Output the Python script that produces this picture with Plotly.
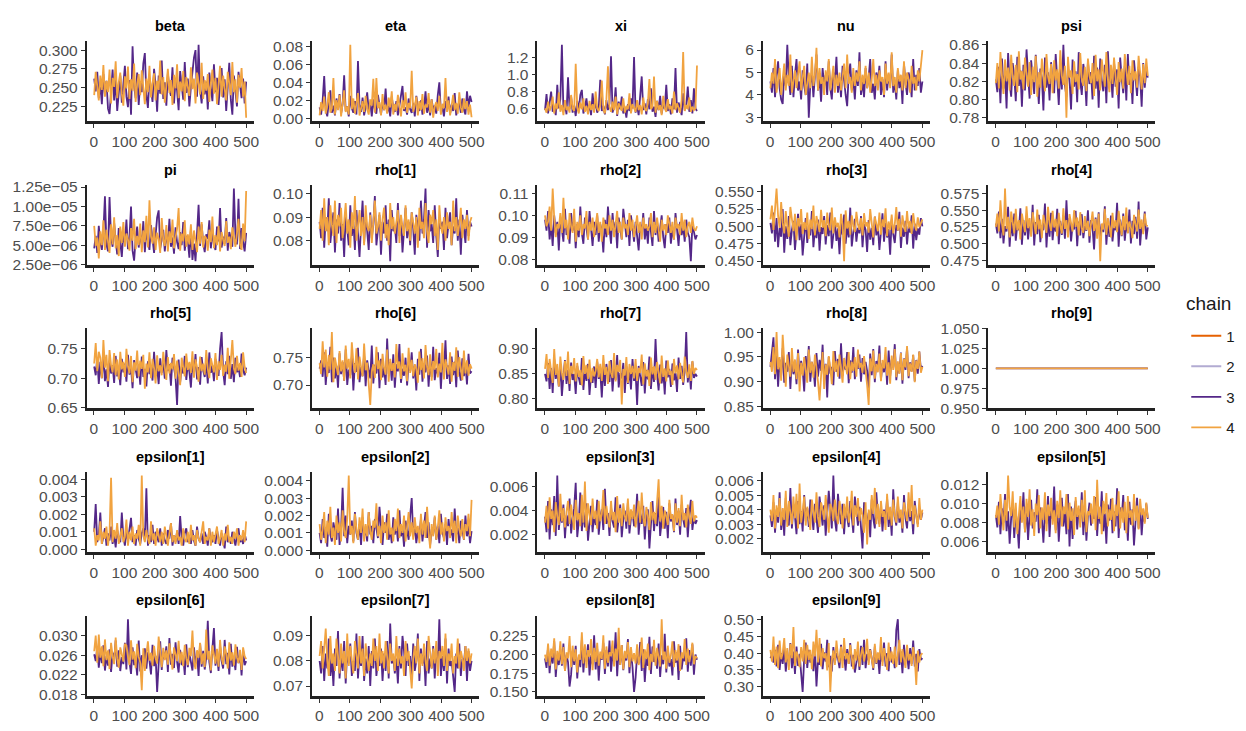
import numpy as np
import plotly.graph_objects as go

# ---------------- data ----------------
chains = ["1", "2", "3", "4"]
chain_colors = ["#E66101", "#B2ABD2", "#542788", "#F1A340"]

beta_c3 = [0.262, 0.245, 0.271, 0.236, 0.255, 0.228, 0.268, 0.241, 0.259, 0.222, 0.215, 0.250, 0.274, 0.233, 0.261, 0.219, 0.247, 0.266, 0.230, 0.256, 0.279, 0.238, 0.224, 0.260, 0.214, 0.305, 0.252, 0.236, 0.270, 0.227, 0.258, 0.244, 0.282, 0.296, 0.240, 0.223, 0.263, 0.249, 0.231, 0.275, 0.254, 0.218, 0.266, 0.242, 0.286, 0.235, 0.257, 0.226, 0.269, 0.248, 0.239, 0.277, 0.229, 0.260, 0.246, 0.220, 0.272, 0.253, 0.234, 0.284, 0.243, 0.262, 0.225, 0.251, 0.273, 0.290, 0.300, 0.238, 0.307, 0.247, 0.229, 0.265, 0.241, 0.258, 0.221, 0.270, 0.250, 0.232, 0.281, 0.244, 0.263, 0.227, 0.255, 0.276, 0.237, 0.261, 0.219, 0.248, 0.283, 0.234, 0.214, 0.266, 0.242, 0.225, 0.271, 0.250, 0.236, 0.262, 0.229, 0.258]
beta_c4 = [0.240, 0.271, 0.252, 0.233, 0.266, 0.247, 0.280, 0.238, 0.259, 0.244, 0.274, 0.229, 0.263, 0.251, 0.285, 0.236, 0.257, 0.270, 0.242, 0.226, 0.265, 0.249, 0.278, 0.235, 0.261, 0.246, 0.282, 0.231, 0.255, 0.268, 0.240, 0.273, 0.250, 0.228, 0.262, 0.244, 0.279, 0.237, 0.256, 0.269, 0.233, 0.259, 0.247, 0.286, 0.241, 0.264, 0.230, 0.253, 0.275, 0.243, 0.260, 0.227, 0.267, 0.249, 0.281, 0.236, 0.258, 0.245, 0.272, 0.232, 0.264, 0.251, 0.239, 0.277, 0.248, 0.262, 0.229, 0.270, 0.254, 0.241, 0.283, 0.235, 0.260, 0.246, 0.268, 0.231, 0.256, 0.274, 0.242, 0.263, 0.228, 0.252, 0.279, 0.238, 0.266, 0.248, 0.233, 0.271, 0.255, 0.240, 0.284, 0.244, 0.261, 0.230, 0.267, 0.250, 0.276, 0.238, 0.258, 0.210]

eta_c3 = [0.012, 0.004, 0.020, 0.047, 0.009, 0.002, 0.018, 0.031, 0.006, 0.014, 0.003, 0.022, 0.010, 0.027, 0.005, 0.016, 0.048, 0.008, 0.013, 0.002, 0.025, 0.011, 0.006, 0.019, 0.004, 0.064, 0.015, 0.007, 0.023, 0.003, 0.012, 0.029, 0.008, 0.017, 0.002, 0.021, 0.010, 0.005, 0.026, 0.013, 0.004, 0.018, 0.009, 0.033, 0.006, 0.014, 0.002, 0.024, 0.011, 0.007, 0.019, 0.003, 0.015, 0.028, 0.036, 0.008, 0.012, 0.004, 0.022, 0.010, 0.006, 0.017, 0.002, 0.025, 0.013, 0.008, 0.020, 0.004, 0.011, 0.030, 0.006, 0.016, 0.003, 0.021, 0.009, 0.014, 0.005, 0.026, 0.040, 0.007, 0.012, 0.002, 0.019, 0.010, 0.024, 0.005, 0.015, 0.008, 0.028, 0.003, 0.013, 0.018, 0.006, 0.022, 0.009, 0.004, 0.030, 0.012, 0.025, 0.018]
eta_c4 = [0.003, 0.018, 0.008, 0.024, 0.005, 0.014, 0.029, 0.006, 0.011, 0.045, 0.004, 0.020, 0.009, 0.026, 0.002, 0.016, 0.031, 0.007, 0.013, 0.004, 0.082, 0.010, 0.022, 0.005, 0.017, 0.028, 0.003, 0.012, 0.019, 0.007, 0.025, 0.010, 0.004, 0.021, 0.014, 0.044, 0.006, 0.045, 0.011, 0.018, 0.003, 0.027, 0.009, 0.015, 0.005, 0.023, 0.012, 0.030, 0.004, 0.016, 0.008, 0.026, 0.013, 0.002, 0.020, 0.010, 0.029, 0.006, 0.017, 0.011, 0.053, 0.007, 0.014, 0.024, 0.003, 0.019, 0.009, 0.027, 0.005, 0.015, 0.012, 0.028, 0.006, 0.021, 0.0005, 0.013, 0.018, 0.008, 0.025, 0.004, 0.016, 0.011, 0.045, 0.007, 0.020, 0.003, 0.014, 0.026, 0.009, 0.017, 0.005, 0.029, 0.012, 0.006, 0.022, 0.010, 0.019, 0.004, 0.015, 0.001]

xi_c3 = [0.58, 0.77, 0.54, 0.66, 0.80, 0.56, 0.62, 0.52, 0.88, 0.60, 0.71, 1.355, 0.57, 0.65, 0.53, 0.97, 0.59, 0.74, 0.55, 0.63, 0.51, 0.69, 0.58, 0.76, 0.82, 0.54, 0.61, 0.72, 0.56, 0.64, 0.52, 0.78, 0.59, 0.67, 0.55, 0.60, 0.94, 0.57, 0.63, 0.53, 0.70, 0.58, 0.66, 1.22, 0.55, 0.62, 0.85, 0.51, 0.68, 0.59, 0.74, 0.54, 0.61, 0.49, 0.65, 0.57, 0.72, 0.60, 1.21, 0.55, 0.63, 0.52, 0.77, 0.98, 0.58, 0.66, 0.53, 0.71, 0.59, 0.84, 0.56, 0.62, 0.50, 0.69, 0.58, 0.75, 0.54, 0.64, 0.60, 0.88, 0.57, 0.65, 0.53, 0.72, 0.59, 1.08, 0.55, 0.67, 0.61, 0.52, 0.78, 0.58, 0.63, 0.86, 0.56, 0.70, 0.54, 0.84, 0.60, 0.57]
xi_c4 = [0.60, 0.55, 0.68, 0.57, 0.63, 0.74, 0.54, 0.66, 0.59, 0.79, 0.56, 0.64, 0.52, 0.70, 0.58, 0.62, 0.55, 0.76, 0.60, 0.57, 1.13, 0.61, 0.54, 0.67, 0.59, 0.72, 0.56, 0.63, 0.53, 0.69, 0.58, 0.65, 0.55, 0.80, 0.60, 0.57, 0.64, 0.93, 0.59, 0.54, 0.71, 1.10, 0.62, 0.56, 0.68, 0.58, 0.74, 0.53, 0.66, 0.60, 0.57, 0.72, 0.55, 0.63, 0.59, 0.78, 0.54, 0.65, 0.61, 0.56, 0.70, 0.58, 0.64, 0.53, 0.73, 0.60, 0.57, 0.66, 0.95, 0.59, 0.62, 0.98, 0.55, 0.69, 0.58, 0.64, 0.52, 0.75, 0.60, 0.56, 0.71, 0.59, 0.63, 0.54, 0.80, 0.58, 0.66, 0.61, 0.55, 0.70, 1.27, 0.57, 0.64, 0.59, 0.73, 0.56, 0.62, 0.58, 0.60, 1.11]

nu_c3 = [4.6, 4.1, 5.2, 3.9, 4.8, 5.5, 4.3, 3.8, 3.6, 5.0, 4.4, 6.23, 4.7, 4.0, 5.3, 3.9, 4.9, 5.6, 4.2, 4.6, 3.8, 5.1, 4.4, 4.0, 5.4, 2.99, 4.5, 5.0, 3.9, 4.7, 5.8, 4.2, 4.8, 3.7, 5.2, 4.4, 4.9, 4.0, 5.5, 4.3, 3.8, 5.0, 4.6, 5.7, 4.1, 4.8, 3.9, 5.3, 4.5, 4.0, 3.5, 4.9, 5.4, 4.2, 4.7, 3.8, 5.1, 4.4, 5.9, 4.0, 4.6, 3.9, 5.2, 4.3, 4.8, 5.6, 4.1, 4.5, 3.8, 5.0, 4.6, 5.3, 4.0, 4.7, 3.9, 5.5, 4.2, 4.9, 4.4, 5.8, 4.1, 4.6, 3.8, 5.1, 4.3, 4.8, 3.6, 5.4, 4.5, 4.0, 5.0, 4.7, 3.9, 5.6, 4.2, 4.9, 4.4, 5.2, 4.1, 4.6]
nu_c4 = [4.3, 5.0, 4.5, 5.6, 4.1, 4.8, 5.2, 4.0, 4.7, 5.4, 4.2, 4.9, 4.4, 5.8, 4.1, 4.6, 5.1, 4.3, 4.9, 5.5, 4.2, 4.8, 5.3, 4.0, 4.6, 5.0, 4.3, 5.7, 4.4, 4.9, 6.1, 4.2, 5.2, 4.5, 4.8, 4.0, 5.1, 4.6, 5.6, 4.2, 4.7, 5.3, 4.1, 4.9, 4.4, 5.0, 4.2, 4.7, 5.4, 4.3, 5.8, 4.5, 4.8, 4.1, 5.2, 4.4, 5.0, 4.6, 5.5, 4.2, 4.9, 4.5, 5.3, 4.3, 5.0, 4.1, 4.7, 5.6, 4.4, 4.9, 4.2, 5.1, 4.6, 4.8, 4.0, 5.4, 4.5, 5.0, 4.3, 5.9, 4.4, 4.8, 4.1, 5.2, 4.6, 4.9, 4.2, 5.5, 4.3, 5.0, 4.7, 4.1, 5.3, 4.5, 4.8, 4.2, 5.1, 4.6, 5.4, 6.0]

psi_c3 = [0.822, 0.808, 0.836, 0.796, 0.845, 0.812, 0.829, 0.790, 0.851, 0.818, 0.803, 0.840, 0.826, 0.798, 0.847, 0.815, 0.832, 0.792, 0.838, 0.810, 0.855, 0.820, 0.801, 0.843, 0.828, 0.806, 0.849, 0.817, 0.795, 0.834, 0.824, 0.788, 0.846, 0.813, 0.830, 0.799, 0.841, 0.819, 0.807, 0.850, 0.825, 0.794, 0.837, 0.811, 0.860, 0.816, 0.803, 0.835, 0.822, 0.789, 0.844, 0.814, 0.831, 0.797, 0.852, 0.820, 0.805, 0.839, 0.826, 0.793, 0.842, 0.817, 0.830, 0.800, 0.848, 0.812, 0.835, 0.791, 0.845, 0.821, 0.809, 0.838, 0.796, 0.853, 0.818, 0.827, 0.802, 0.841, 0.814, 0.833, 0.790, 0.846, 0.823, 0.807, 0.837, 0.799, 0.850, 0.816, 0.829, 0.795, 0.843, 0.819, 0.804, 0.836, 0.825, 0.792, 0.840, 0.813, 0.831, 0.824]
psi_c4 = [0.818, 0.840, 0.812, 0.852, 0.826, 0.806, 0.844, 0.820, 0.835, 0.810, 0.849, 0.824, 0.815, 0.838, 0.808, 0.853, 0.822, 0.831, 0.811, 0.846, 0.827, 0.814, 0.841, 0.805, 0.836, 0.819, 0.848, 0.803, 0.830, 0.813, 0.845, 0.823, 0.809, 0.850, 0.825, 0.817, 0.839, 0.807, 0.843, 0.821, 0.833, 0.812, 0.854, 0.826, 0.816, 0.837, 0.780, 0.847, 0.824, 0.832, 0.806, 0.842, 0.819, 0.828, 0.811, 0.851, 0.823, 0.815, 0.836, 0.809, 0.845, 0.826, 0.818, 0.840, 0.804, 0.849, 0.820, 0.833, 0.810, 0.844, 0.827, 0.814, 0.852, 0.822, 0.808, 0.838, 0.817, 0.846, 0.825, 0.805, 0.841, 0.819, 0.834, 0.812, 0.850, 0.828, 0.816, 0.837, 0.807, 0.843, 0.821, 0.831, 0.813, 0.848, 0.824, 0.811, 0.839, 0.818, 0.845, 0.826]

# pi values are given in units of 1e-06
PI_UNIT = 1e-6
pi_c3 = [4.6, 6.2, 4.0, 7.5, 5.3, 4.4, 6.8, 11.3, 5.1, 4.2, 11.2, 6.0, 4.8, 7.9, 5.6, 3.8, 7.2, 4.9, 3.5, 6.6, 5.2, 8.3, 4.5, 6.1, 10.0, 4.3, 3.0, 5.8, 7.4, 4.7, 6.4, 5.0, 8.1, 4.1, 6.9, 5.5, 4.4, 7.6, 5.9, 4.0, 6.3, 8.6, 9.5, 4.6, 5.7, 7.0, 4.2, 6.5, 5.1, 8.4, 4.8, 6.0, 3.9, 7.3, 5.4, 4.5, 6.7, 5.0, 8.0, 4.3, 6.2, 5.6, 3.4, 7.1, 3.1, 5.2, 2.93, 6.6, 10.2, 4.9, 7.7, 5.3, 4.1, 6.4, 5.8, 8.2, 4.6, 6.9, 5.0, 4.4, 7.4, 5.5, 9.8, 4.7, 6.1, 5.2, 8.5, 4.3, 6.7, 5.9, 4.8, 12.32, 6.3, 5.1, 11.0, 4.5, 7.2, 5.4, 4.2, 6.6]
pi_c4 = [7.5, 4.9, 6.0, 3.3, 6.8, 5.0, 8.2, 4.4, 7.0, 5.5, 4.0, 7.7, 5.1, 8.6, 4.6, 6.3, 3.6, 7.4, 5.3, 8.0, 4.8, 6.5, 5.7, 4.3, 7.2, 5.6, 8.4, 4.5, 6.2, 5.0, 7.8, 4.1, 6.9, 5.4, 8.8, 4.7, 10.8, 6.1, 5.2, 7.3, 4.4, 6.6, 5.8, 4.0, 8.5, 5.7, 4.9, 7.6, 4.2, 6.8, 5.3, 8.3, 4.6, 6.0, 7.1, 9.8, 4.3, 6.5, 5.5, 8.2, 4.8, 6.4, 5.1, 7.7, 4.4, 6.9, 5.6, 4.1, 7.4, 5.2, 8.0, 4.7, 6.2, 5.9, 4.3, 7.0, 5.4, 8.7, 4.6, 6.3, 5.0, 7.5, 4.2, 6.7, 5.7, 4.9, 8.1, 5.3, 6.1, 4.5, 7.3, 5.8, 4.8, 6.6, 8.4, 5.1, 4.4, 7.8, 5.5, 12.0]

rho1_c3 = [0.088, 0.081, 0.094, 0.077, 0.090, 0.084, 0.098, 0.079, 0.086, 0.092, 0.075, 0.089, 0.083, 0.096, 0.080, 0.087, 0.073, 0.091, 0.085, 0.078, 0.095, 0.082, 0.088, 0.076, 0.093, 0.080, 0.073, 0.086, 0.097, 0.079, 0.090, 0.084, 0.076, 0.092, 0.081, 0.087, 0.099, 0.078, 0.085, 0.091, 0.074, 0.088, 0.083, 0.095, 0.080, 0.089, 0.0712, 0.093, 0.084, 0.086, 0.079, 0.096, 0.082, 0.090, 0.075, 0.087, 0.094, 0.081, 0.088, 0.078, 0.092, 0.085, 0.074, 0.091, 0.086, 0.080, 0.097, 0.083, 0.089, 0.1022, 0.077, 0.093, 0.084, 0.087, 0.079, 0.095, 0.082, 0.073, 0.090, 0.085, 0.088, 0.076, 0.094, 0.081, 0.087, 0.092, 0.078, 0.086, 0.083, 0.098, 0.080, 0.089, 0.074, 0.091, 0.085, 0.079, 0.093, 0.082, 0.088, 0.086]
rho1_c4 = [0.085, 0.093, 0.080, 0.098, 0.084, 0.090, 0.078, 0.095, 0.087, 0.082, 0.097, 0.079, 0.091, 0.086, 0.094, 0.081, 0.088, 0.096, 0.083, 0.089, 0.077, 0.092, 0.085, 0.099, 0.080, 0.087, 0.093, 0.082, 0.090, 0.078, 0.095, 0.086, 0.084, 0.091, 0.079, 0.088, 0.097, 0.083, 0.086, 0.092, 0.080, 0.089, 0.094, 0.081, 0.087, 0.078, 0.096, 0.085, 0.090, 0.083, 0.088, 0.093, 0.079, 0.091, 0.086, 0.082, 0.095, 0.084, 0.089, 0.080, 0.092, 0.087, 0.083, 0.090, 0.077, 0.094, 0.085, 0.088, 0.081, 0.096, 0.084, 0.079, 0.091, 0.087, 0.093, 0.082, 0.089, 0.076, 0.095, 0.086, 0.083, 0.090, 0.080, 0.092, 0.085, 0.088, 0.078, 0.097, 0.084, 0.090, 0.082, 0.087, 0.094, 0.081, 0.089, 0.085, 0.091, 0.080, 0.088, 0.090]

rho2_c3 = [0.098, 0.093, 0.102, 0.089, 0.096, 0.086, 0.100, 0.092, 0.097, 0.084, 0.099, 0.094, 0.088, 0.103, 0.091, 0.095, 0.087, 0.101, 0.093, 0.098, 0.085, 0.096, 0.090, 0.104, 0.092, 0.087, 0.099, 0.094, 0.089, 0.102, 0.095, 0.086, 0.097, 0.091, 0.100, 0.088, 0.096, 0.093, 0.083, 0.098, 0.090, 0.104, 0.094, 0.087, 0.101, 0.092, 0.097, 0.085, 0.099, 0.093, 0.089, 0.103, 0.095, 0.090, 0.098, 0.086, 0.100, 0.094, 0.088, 0.097, 0.091, 0.084, 0.096, 0.092, 0.101, 0.089, 0.095, 0.087, 0.099, 0.093, 0.086, 0.102, 0.091, 0.097, 0.088, 0.094, 0.100, 0.090, 0.085, 0.096, 0.092, 0.099, 0.087, 0.094, 0.089, 0.101, 0.093, 0.086, 0.097, 0.091, 0.095, 0.088, 0.098, 0.092, 0.090, 0.079, 0.096, 0.093, 0.089, 0.091]
rho2_c4 = [0.100, 0.095, 0.097, 0.104, 0.093, 0.1123, 0.099, 0.090, 0.096, 0.094, 0.101, 0.092, 0.108, 0.094, 0.098, 0.089, 0.101, 0.095, 0.092, 0.103, 0.088, 0.097, 0.093, 0.100, 0.091, 0.096, 0.094, 0.102, 0.089, 0.097, 0.093, 0.099, 0.090, 0.095, 0.101, 0.092, 0.097, 0.088, 0.099, 0.094, 0.096, 0.091, 0.100, 0.093, 0.098, 0.090, 0.095, 0.102, 0.092, 0.097, 0.089, 0.099, 0.094, 0.096, 0.091, 0.101, 0.093, 0.098, 0.090, 0.095, 0.100, 0.092, 0.097, 0.089, 0.099, 0.094, 0.096, 0.093, 0.095, 0.101, 0.090, 0.097, 0.092, 0.099, 0.094, 0.088, 0.098, 0.093, 0.096, 0.091, 0.100, 0.095, 0.092, 0.097, 0.089, 0.099, 0.094, 0.096, 0.091, 0.101, 0.093, 0.098, 0.090, 0.095, 0.097, 0.092, 0.099, 0.094, 0.093, 0.095]

rho3_c3 = [0.505, 0.490, 0.520, 0.478, 0.512, 0.470, 0.498, 0.485, 0.525, 0.462, 0.500, 0.482, 0.515, 0.473, 0.495, 0.508, 0.466, 0.490, 0.518, 0.480, 0.503, 0.458, 0.492, 0.512, 0.476, 0.500, 0.487, 0.522, 0.470, 0.496, 0.483, 0.510, 0.465, 0.499, 0.489, 0.515, 0.474, 0.502, 0.486, 0.520, 0.468, 0.494, 0.508, 0.479, 0.497, 0.460, 0.505, 0.488, 0.517, 0.475, 0.500, 0.484, 0.527, 0.471, 0.493, 0.511, 0.478, 0.498, 0.490, 0.515, 0.470, 0.503, 0.495, 0.463, 0.509, 0.481, 0.498, 0.473, 0.514, 0.487, 0.501, 0.466, 0.492, 0.519, 0.478, 0.505, 0.484, 0.496, 0.459, 0.510, 0.489, 0.476, 0.502, 0.494, 0.521, 0.469, 0.498, 0.485, 0.508, 0.474, 0.500, 0.491, 0.516, 0.468, 0.504, 0.480, 0.497, 0.488, 0.512, 0.500]
rho3_c4 = [0.510, 0.530, 0.495, 0.520, 0.5547, 0.515, 0.498, 0.535, 0.505, 0.490, 0.522, 0.500, 0.485, 0.528, 0.508, 0.493, 0.518, 0.480, 0.512, 0.500, 0.525, 0.489, 0.506, 0.495, 0.520, 0.482, 0.510, 0.496, 0.530, 0.487, 0.515, 0.503, 0.492, 0.524, 0.498, 0.509, 0.486, 0.520, 0.501, 0.494, 0.527, 0.490, 0.513, 0.499, 0.505, 0.484, 0.518, 0.502, 0.4497, 0.523, 0.497, 0.508, 0.488, 0.516, 0.500, 0.492, 0.521, 0.503, 0.495, 0.512, 0.487, 0.519, 0.500, 0.506, 0.491, 0.525, 0.498, 0.484, 0.514, 0.503, 0.493, 0.520, 0.488, 0.510, 0.499, 0.526, 0.486, 0.507, 0.495, 0.517, 0.490, 0.503, 0.528, 0.494, 0.511, 0.485, 0.516, 0.500, 0.492, 0.522, 0.497, 0.508, 0.489, 0.519, 0.502, 0.494, 0.513, 0.499, 0.506, 0.510]

rho4_c3 = [0.530, 0.515, 0.548, 0.508, 0.537, 0.500, 0.526, 0.518, 0.555, 0.495, 0.533, 0.511, 0.545, 0.504, 0.528, 0.520, 0.553, 0.498, 0.535, 0.512, 0.540, 0.506, 0.529, 0.517, 0.558, 0.497, 0.532, 0.514, 0.543, 0.502, 0.527, 0.520, 0.560, 0.494, 0.536, 0.510, 0.546, 0.505, 0.530, 0.518, 0.552, 0.499, 0.534, 0.513, 0.541, 0.507, 0.565, 0.516, 0.538, 0.503, 0.528, 0.521, 0.549, 0.496, 0.533, 0.512, 0.544, 0.508, 0.526, 0.519, 0.550, 0.501, 0.535, 0.524, 0.491, 0.539, 0.513, 0.547, 0.505, 0.529, 0.517, 0.556, 0.498, 0.532, 0.510, 0.542, 0.503, 0.527, 0.520, 0.561, 0.495, 0.536, 0.511, 0.545, 0.504, 0.530, 0.516, 0.551, 0.500, 0.534, 0.514, 0.540, 0.507, 0.563, 0.497, 0.528, 0.519, 0.548, 0.506, 0.524]
rho4_c4 = [0.525, 0.545, 0.518, 0.565, 0.530, 0.512, 0.5827, 0.522, 0.540, 0.509, 0.548, 0.527, 0.515, 0.552, 0.520, 0.535, 0.506, 0.545, 0.528, 0.517, 0.556, 0.523, 0.538, 0.510, 0.547, 0.526, 0.514, 0.551, 0.521, 0.536, 0.508, 0.543, 0.529, 0.516, 0.555, 0.530, 0.519, 0.549, 0.524, 0.537, 0.511, 0.546, 0.527, 0.515, 0.553, 0.522, 0.535, 0.509, 0.544, 0.528, 0.518, 0.550, 0.525, 0.539, 0.512, 0.547, 0.523, 0.516, 0.541, 0.520, 0.534, 0.511, 0.529, 0.548, 0.519, 0.537, 0.507, 0.545, 0.4732, 0.530, 0.521, 0.552, 0.513, 0.538, 0.526, 0.509, 0.546, 0.523, 0.535, 0.517, 0.549, 0.527, 0.512, 0.541, 0.520, 0.554, 0.515, 0.533, 0.524, 0.508, 0.543, 0.529, 0.518, 0.551, 0.522, 0.536, 0.514, 0.545, 0.527, 0.526]

rho5_c3 = [0.720, 0.705, 0.735, 0.690, 0.728, 0.700, 0.742, 0.695, 0.715, 0.685, 0.730, 0.708, 0.722, 0.692, 0.738, 0.703, 0.717, 0.688, 0.733, 0.710, 0.725, 0.694, 0.740, 0.706, 0.719, 0.683, 0.731, 0.711, 0.700, 0.723, 0.689, 0.737, 0.702, 0.716, 0.686, 0.729, 0.707, 0.721, 0.696, 0.745, 0.704, 0.718, 0.690, 0.734, 0.709, 0.726, 0.699, 0.748, 0.712, 0.724, 0.687, 0.735, 0.715, 0.701, 0.6545, 0.732, 0.693, 0.720, 0.708, 0.738, 0.697, 0.725, 0.711, 0.684, 0.730, 0.706, 0.741, 0.698, 0.719, 0.689, 0.736, 0.713, 0.702, 0.727, 0.691, 0.744, 0.709, 0.722, 0.695, 0.733, 0.716, 0.704, 0.750, 0.7788, 0.712, 0.688, 0.729, 0.707, 0.738, 0.699, 0.724, 0.693, 0.735, 0.710, 0.718, 0.702, 0.742, 0.714, 0.705, 0.718]
rho5_c4 = [0.725, 0.760, 0.712, 0.745, 0.735, 0.700, 0.765, 0.718, 0.740, 0.695, 0.748, 0.722, 0.710, 0.743, 0.705, 0.732, 0.698, 0.745, 0.715, 0.728, 0.702, 0.750, 0.720, 0.708, 0.738, 0.693, 0.727, 0.713, 0.747, 0.703, 0.730, 0.716, 0.740, 0.682, 0.725, 0.710, 0.744, 0.700, 0.733, 0.717, 0.691, 0.739, 0.712, 0.722, 0.705, 0.745, 0.719, 0.697, 0.736, 0.708, 0.726, 0.715, 0.741, 0.699, 0.730, 0.711, 0.688, 0.735, 0.720, 0.703, 0.742, 0.714, 0.728, 0.709, 0.746, 0.701, 0.732, 0.718, 0.694, 0.737, 0.712, 0.725, 0.706, 0.748, 0.716, 0.700, 0.734, 0.721, 0.710, 0.743, 0.697, 0.729, 0.714, 0.740, 0.704, 0.723, 0.711, 0.752, 0.699, 0.731, 0.765, 0.717, 0.707, 0.738, 0.713, 0.726, 0.702, 0.744, 0.719, 0.709]

rho6_c3 = [0.730, 0.745, 0.715, 0.760, 0.700, 0.738, 0.722, 0.770, 0.705, 0.750, 0.712, 0.735, 0.695, 0.758, 0.720, 0.742, 0.708, 0.765, 0.700, 0.728, 0.718, 0.752, 0.690, 0.740, 0.724, 0.768, 0.705, 0.733, 0.716, 0.755, 0.698, 0.745, 0.726, 0.712, 0.772, 0.703, 0.737, 0.721, 0.760, 0.694, 0.748, 0.714, 0.733, 0.700, 0.785, 0.720, 0.742, 0.708, 0.756, 0.695, 0.738, 0.725, 0.775, 0.704, 0.730, 0.717, 0.750, 0.699, 0.742, 0.726, 0.760, 0.712, 0.735, 0.690, 0.748, 0.719, 0.766, 0.706, 0.739, 0.723, 0.754, 0.697, 0.744, 0.715, 0.770, 0.709, 0.731, 0.720, 0.759, 0.693, 0.746, 0.727, 0.782, 0.711, 0.736, 0.702, 0.752, 0.718, 0.743, 0.696, 0.763, 0.724, 0.708, 0.749, 0.716, 0.738, 0.701, 0.757, 0.721, 0.725]
rho6_c4 = [0.740, 0.720, 0.780, 0.732, 0.765, 0.715, 0.755, 0.728, 0.7969, 0.705, 0.750, 0.735, 0.718, 0.762, 0.725, 0.745, 0.708, 0.772, 0.730, 0.748, 0.712, 0.778, 0.740, 0.722, 0.767, 0.710, 0.752, 0.733, 0.716, 0.776, 0.727, 0.741, 0.705, 0.6637, 0.724, 0.738, 0.713, 0.770, 0.729, 0.745, 0.709, 0.757, 0.732, 0.719, 0.765, 0.706, 0.748, 0.726, 0.740, 0.714, 0.775, 0.730, 0.743, 0.711, 0.758, 0.725, 0.737, 0.707, 0.768, 0.722, 0.746, 0.716, 0.738, 0.730, 0.704, 0.761, 0.727, 0.749, 0.712, 0.773, 0.733, 0.718, 0.756, 0.708, 0.744, 0.728, 0.766, 0.714, 0.739, 0.723, 0.777, 0.710, 0.747, 0.731, 0.719, 0.760, 0.706, 0.742, 0.726, 0.769, 0.715, 0.751, 0.734, 0.709, 0.763, 0.721, 0.745, 0.717, 0.738, 0.730]

rho7_c3 = [0.850, 0.835, 0.872, 0.820, 0.862, 0.812, 0.880, 0.840, 0.855, 0.825, 0.868, 0.806, 0.845, 0.878, 0.830, 0.858, 0.816, 0.873, 0.838, 0.850, 0.810, 0.866, 0.842, 0.828, 0.882, 0.818, 0.856, 0.836, 0.870, 0.808, 0.848, 0.832, 0.865, 0.822, 0.875, 0.840, 0.855, 0.803, 0.862, 0.826, 0.870, 0.845, 0.834, 0.878, 0.815, 0.860, 0.838, 0.888, 0.823, 0.852, 0.841, 0.872, 0.812, 0.865, 0.830, 0.857, 0.819, 0.880, 0.836, 0.853, 0.788, 0.866, 0.845, 0.826, 0.874, 0.811, 0.858, 0.839, 0.885, 0.820, 0.863, 0.834, 0.920, 0.848, 0.817, 0.869, 0.831, 0.856, 0.809, 0.877, 0.843, 0.860, 0.824, 0.871, 0.837, 0.852, 0.814, 0.883, 0.840, 0.866, 0.828, 0.855, 0.934, 0.833, 0.862, 0.819, 0.875, 0.842, 0.850, 0.845]
rho7_c4 = [0.860, 0.890, 0.842, 0.880, 0.855, 0.832, 0.900, 0.848, 0.870, 0.825, 0.885, 0.852, 0.838, 0.876, 0.846, 0.895, 0.830, 0.866, 0.850, 0.882, 0.835, 0.872, 0.844, 0.858, 0.827, 0.886, 0.850, 0.868, 0.840, 0.879, 0.833, 0.862, 0.845, 0.856, 0.880, 0.843, 0.870, 0.836, 0.888, 0.848, 0.864, 0.830, 0.876, 0.852, 0.842, 0.892, 0.835, 0.868, 0.854, 0.878, 0.789, 0.860, 0.847, 0.884, 0.832, 0.870, 0.850, 0.866, 0.841, 0.880, 0.836, 0.862, 0.852, 0.889, 0.829, 0.871, 0.845, 0.858, 0.826, 0.883, 0.849, 0.865, 0.838, 0.874, 0.853, 0.831, 0.887, 0.844, 0.861, 0.835, 0.877, 0.848, 0.856, 0.828, 0.880, 0.851, 0.867, 0.839, 0.872, 0.846, 0.833, 0.885, 0.855, 0.842, 0.869, 0.836, 0.876, 0.850, 0.862, 0.858]

rho8_c3 = [0.930, 0.960, 0.990, 0.905, 0.955, 0.890, 0.945, 0.912, 0.968, 0.898, 0.938, 0.920, 0.960, 0.885, 0.948, 0.915, 0.935, 0.895, 0.965, 0.908, 0.942, 0.925, 0.880, 0.952, 0.918, 0.972, 0.900, 0.940, 0.928, 0.890, 0.958, 0.910, 0.944, 0.922, 0.975, 0.902, 0.936, 0.868, 0.950, 0.916, 0.930, 0.893, 0.962, 0.920, 0.946, 0.906, 0.978, 0.912, 0.938, 0.924, 0.960, 0.897, 0.943, 0.918, 0.970, 0.905, 0.935, 0.926, 0.955, 0.900, 0.948, 0.915, 0.940, 0.922, 0.885, 0.957, 0.913, 0.966, 0.899, 0.942, 0.927, 0.973, 0.904, 0.937, 0.919, 0.951, 0.894, 0.963, 0.911, 0.945, 0.929, 0.976, 0.903, 0.934, 0.917, 0.959, 0.896, 0.947, 0.924, 0.968, 0.907, 0.939, 0.921, 0.954, 0.901, 0.944, 0.916, 0.961, 0.925, 0.932]
rho8_c4 = [0.940, 0.920, 0.970, 0.915, 1.0006, 0.925, 0.950, 0.902, 0.995, 0.930, 0.890, 0.955, 0.935, 0.910, 0.968, 0.920, 0.945, 0.905, 0.958, 0.880, 0.938, 0.912, 0.950, 0.925, 0.898, 0.965, 0.918, 0.940, 0.908, 0.955, 0.930, 0.900, 0.862, 0.922, 0.960, 0.885, 0.935, 0.914, 0.952, 0.928, 0.895, 0.962, 0.920, 0.942, 0.910, 0.955, 0.926, 0.898, 0.948, 0.932, 0.915, 0.960, 0.905, 0.940, 0.922, 0.950, 0.910, 0.965, 0.928, 0.938, 0.918, 0.952, 0.925, 0.893, 0.853, 0.947, 0.921, 0.963, 0.906, 0.936, 0.919, 0.957, 0.901, 0.944, 0.927, 0.970, 0.912, 0.939, 0.896, 0.953, 0.924, 0.966, 0.909, 0.941, 0.916, 0.958, 0.903, 0.946, 0.929, 0.972, 0.911, 0.937, 0.920, 0.955, 0.899, 0.943, 0.926, 0.961, 0.918, 0.930]

rho9_c3 = [1.0, 1.0]
rho9_c4 = [1.0, 1.0]

eps1_c3 = [0.0010, 0.0026, 0.0004, 0.0008, 0.0021, 0.0003, 0.0007, 0.0012, 0.0002, 0.0009, 0.0005, 0.0013, 0.0003, 0.0008, 0.0001, 0.0011, 0.0006, 0.0004, 0.0021, 0.0007, 0.0002, 0.0010, 0.0005, 0.0013, 0.0018, 0.0004, 0.0008, 0.0002, 0.0011, 0.0006, 0.0003, 0.0009, 0.0012, 0.0005, 0.0035, 0.0002, 0.0008, 0.0004, 0.0014, 0.0003, 0.0010, 0.0007, 0.0004, 0.0012, 0.0002, 0.0009, 0.0005, 0.0003, 0.0011, 0.0006, 0.0015, 0.0002, 0.0008, 0.0004, 0.0010, 0.0003, 0.0019, 0.0006, 0.0002, 0.0009, 0.0012, 0.0004, 0.0007, 0.0003, 0.0011, 0.0005, 0.0002, 0.0013, 0.0006, 0.0004, 0.0009, 0.0003, 0.0010, 0.0007, 0.0002, 0.0012, 0.0005, 0.0004, 0.0008, 0.0003, 0.0011, 0.0006, 0.0002, 0.0009, 0.0005, 0.00004, 0.0013, 0.0004, 0.0007, 0.0003, 0.0010, 0.0006, 0.0002, 0.0008, 0.0012, 0.0004, 0.0006, 0.0003, 0.0009, 0.0005]
eps1_c4 = [0.0012, 0.0002, 0.0008, 0.0005, 0.0016, 0.0003, 0.0010, 0.0006, 0.0013, 0.0002, 0.0009, 0.0041, 0.0004, 0.0011, 0.0006, 0.0015, 0.0003, 0.0008, 0.0012, 0.0004, 0.0007, 0.0017, 0.0002, 0.0010, 0.0005, 0.0013, 0.0003, 0.0009, 0.0006, 0.0014, 0.0002, 0.00423, 0.0008, 0.0004, 0.0011, 0.0006, 0.0003, 0.0016, 0.0005, 0.0009, 0.0002, 0.0012, 0.0007, 0.0004, 0.0010, 0.0003, 0.0013, 0.0006, 0.0002, 0.0009, 0.0015, 0.0004, 0.0008, 0.0003, 0.0011, 0.0005, 0.0007, 0.0002, 0.0012, 0.0006, 0.0004, 0.0010, 0.0003, 0.0014, 0.0005, 0.0008, 0.0002, 0.0011, 0.0006, 0.0004, 0.0009, 0.0016, 0.0003, 0.0007, 0.0005, 0.0012, 0.0002, 0.0010, 0.0004, 0.0008, 0.0013, 0.0003, 0.0006, 0.0011, 0.0002, 0.0009, 0.0005, 0.0014, 0.0004, 0.0007, 0.0003, 0.0010, 0.0006, 0.0012, 0.0002, 0.0008, 0.0005, 0.0011, 0.0004, 0.0016]

eps2_c3 = [0.0010, 0.0004, 0.0018, 0.0007, 0.0013, 0.0002, 0.0021, 0.0009, 0.0005, 0.0016, 0.0011, 0.0006, 0.0024, 0.0003, 0.0012, 0.0036, 0.0008, 0.0020, 0.0004, 0.0014, 0.0009, 0.0017, 0.0005, 0.0022, 0.0010, 0.0006, 0.0015, 0.0003, 0.0019, 0.0008, 0.0012, 0.0005, 0.0022, 0.0009, 0.0014, 0.0004, 0.0018, 0.0011, 0.0007, 0.0025, 0.0013, 0.0003, 0.0016, 0.0010, 0.0021, 0.0006, 0.0012, 0.0004, 0.0019, 0.0009, 0.0015, 0.0005, 0.0023, 0.0008, 0.0013, 0.0002, 0.0017, 0.0010, 0.0006, 0.0020, 0.0030, 0.0008, 0.0014, 0.0004, 0.0011, 0.0009, 0.0018, 0.0005, 0.0013, 0.0022, 0.0007, 0.0016, 0.0003, 0.0012, 0.0009, 0.0019, 0.0006, 0.0014, 0.0004, 0.0021, 0.0010, 0.0007, 0.0015, 0.0003, 0.0018, 0.0008, 0.0012, 0.0005, 0.0024, 0.0009, 0.0013, 0.0004, 0.0017, 0.0010, 0.0006, 0.0020, 0.0008, 0.0014, 0.0004, 0.0011]
eps2_c4 = [0.0015, 0.0006, 0.0012, 0.0022, 0.0004, 0.0017, 0.0009, 0.0025, 0.0007, 0.0013, 0.0003, 0.0020, 0.0010, 0.0016, 0.0005, 0.0023, 0.0011, 0.0007, 0.0018, 0.0043, 0.0009, 0.0014, 0.0004, 0.0021, 0.0012, 0.0006, 0.0019, 0.0010, 0.0024, 0.0005, 0.0015, 0.0008, 0.0022, 0.0011, 0.0006, 0.0017, 0.0013, 0.0027, 0.0008, 0.0014, 0.0004, 0.0020, 0.0010, 0.0016, 0.0006, 0.0023, 0.0009, 0.0013, 0.0005, 0.0018, 0.0011, 0.0024, 0.0007, 0.0015, 0.0010, 0.0020, 0.0005, 0.0013, 0.0022, 0.0008, 0.0016, 0.0006, 0.0019, 0.0010, 0.0014, 0.0004, 0.0021, 0.0009, 0.0017, 0.0007, 0.0025, 0.0011, 0.0001, 0.0015, 0.0008, 0.0020, 0.0006, 0.0013, 0.0023, 0.0009, 0.0016, 0.0005, 0.0019, 0.0011, 0.0014, 0.0007, 0.0022, 0.0010, 0.0017, 0.0004, 0.0020, 0.0012, 0.0008, 0.0018, 0.0006, 0.0015, 0.0011, 0.0021, 0.0008, 0.0029]

eps3_c3 = [0.0035, 0.0022, 0.0048, 0.0016, 0.0041, 0.0028, 0.0052, 0.0019, 0.0069, 0.0024, 0.0038, 0.0030, 0.0045, 0.0017, 0.0036, 0.0027, 0.0050, 0.0021, 0.0034, 0.0042, 0.0063, 0.0018, 0.0031, 0.0055, 0.0023, 0.0039, 0.0026, 0.0046, 0.0015, 0.0032, 0.0044, 0.0022, 0.0037, 0.0028, 0.0049, 0.0020, 0.0035, 0.0041, 0.0024, 0.0058, 0.0029, 0.0038, 0.0019, 0.0043, 0.0031, 0.0026, 0.0051, 0.0022, 0.0036, 0.0045, 0.0018, 0.0033, 0.0040, 0.0025, 0.0047, 0.0021, 0.0034, 0.0039, 0.0027, 0.0032, 0.0054, 0.0020, 0.0037, 0.0029, 0.0044, 0.0016, 0.0035, 0.0041, 0.00086, 0.0030, 0.0048, 0.0023, 0.0038, 0.0027, 0.0052, 0.0019, 0.0034, 0.0043, 0.0025, 0.0039, 0.0017, 0.0046, 0.0031, 0.0036, 0.0022, 0.0050, 0.0028, 0.0040, 0.0020, 0.0045, 0.0033, 0.0026, 0.0042, 0.0018, 0.0037, 0.0049, 0.0024, 0.0035, 0.0029, 0.0032]
eps3_c4 = [0.0030, 0.0044, 0.0025, 0.0051, 0.0033, 0.0040, 0.0022, 0.0047, 0.0035, 0.0028, 0.0054, 0.0031, 0.0042, 0.0026, 0.0039, 0.0048, 0.0029, 0.0045, 0.0034, 0.0024, 0.0049, 0.0032, 0.0038, 0.0027, 0.0053, 0.0030, 0.0064, 0.0023, 0.0046, 0.0036, 0.0028, 0.0050, 0.0033, 0.0040, 0.0025, 0.0048, 0.0031, 0.0037, 0.0057, 0.0029, 0.0044, 0.0034, 0.0026, 0.0048, 0.0032, 0.0039, 0.0022, 0.0052, 0.0030, 0.0042, 0.0027, 0.0046, 0.0035, 0.0031, 0.0050, 0.0028, 0.0041, 0.0033, 0.0045, 0.0026, 0.0038, 0.0048, 0.0030, 0.0055, 0.0034, 0.0027, 0.0043, 0.0036, 0.0024, 0.0047, 0.0032, 0.0039, 0.0029, 0.0051, 0.0066, 0.0031, 0.0044, 0.0025, 0.0040, 0.0035, 0.0028, 0.0049, 0.0033, 0.0037, 0.0023, 0.0046, 0.0030, 0.0042, 0.0027, 0.0053, 0.0032, 0.0038, 0.0026, 0.0045, 0.0034, 0.0029, 0.0048, 0.0031, 0.0036, 0.0034]

eps4_c3 = [0.0036, 0.0028, 0.0045, 0.0024, 0.0040, 0.0031, 0.0052, 0.0026, 0.0038, 0.0022, 0.0048, 0.0033, 0.0029, 0.0055, 0.0027, 0.0042, 0.0035, 0.0023, 0.0046, 0.0030, 0.0039, 0.0025, 0.0050, 0.0032, 0.0041, 0.0028, 0.0047, 0.0034, 0.0026, 0.0044, 0.0031, 0.0024, 0.0049, 0.0036, 0.0029, 0.0043, 0.0022, 0.0037, 0.0053, 0.0040, 0.0027, 0.00635, 0.0033, 0.0025, 0.0051, 0.0038, 0.0030, 0.0044, 0.0023, 0.0041, 0.0035, 0.0028, 0.0046, 0.0032, 0.0024, 0.0049, 0.0037, 0.0029, 0.0042, 0.0026, 0.00132, 0.0045, 0.0033, 0.0031, 0.0038, 0.0021, 0.0047, 0.0034, 0.0027, 0.0052, 0.0036, 0.0030, 0.0043, 0.0025, 0.0040, 0.0033, 0.0048, 0.0028, 0.0039, 0.0022, 0.0054, 0.0035, 0.0029, 0.0045, 0.0031, 0.0037, 0.0024, 0.0050, 0.0034, 0.0027, 0.0044, 0.0032, 0.0039, 0.0023, 0.0046, 0.0036, 0.0030, 0.0041, 0.0033, 0.0038]
eps4_c4 = [0.0040, 0.0032, 0.0050, 0.0027, 0.0043, 0.0035, 0.0048, 0.0029, 0.0041, 0.0033, 0.0053, 0.0028, 0.0046, 0.0036, 0.0030, 0.0049, 0.0034, 0.0051, 0.0027, 0.0058, 0.0031, 0.0039, 0.0049, 0.0029, 0.0042, 0.0034, 0.0026, 0.0047, 0.0038, 0.0031, 0.0052, 0.0035, 0.0028, 0.0045, 0.0040, 0.0033, 0.0050, 0.0037, 0.0024, 0.0044, 0.0041, 0.0032, 0.0047, 0.0036, 0.0030, 0.0046, 0.0039, 0.0027, 0.0044, 0.0034, 0.0049, 0.0031, 0.0038, 0.0053, 0.0029, 0.0043, 0.0035, 0.0048, 0.0032, 0.0041, 0.0036, 0.0024, 0.0045, 0.0016, 0.0040, 0.0033, 0.0050, 0.0037, 0.0055, 0.0030, 0.0044, 0.0028, 0.0046, 0.0035, 0.0039, 0.0026, 0.0051, 0.0033, 0.0042, 0.0029, 0.0047, 0.0036, 0.0031, 0.0049, 0.0034, 0.0040, 0.0027, 0.0045, 0.0038, 0.0032, 0.0052, 0.0035, 0.0057, 0.0030, 0.0043, 0.0037, 0.0028, 0.0048, 0.0033, 0.0040]

eps5_c3 = [0.0088, 0.0075, 0.0102, 0.0068, 0.0095, 0.0080, 0.0110, 0.0071, 0.0092, 0.0058, 0.0085, 0.0100, 0.0064, 0.0090, 0.0078, 0.0053, 0.0094, 0.0083, 0.0112, 0.0070, 0.0097, 0.0062, 0.0088, 0.0104, 0.0074, 0.0091, 0.0081, 0.0115, 0.0069, 0.0096, 0.0084, 0.0059, 0.0093, 0.0079, 0.0108, 0.0065, 0.0096, 0.0084, 0.0118, 0.0072, 0.0099, 0.0060, 0.0089, 0.0106, 0.0076, 0.0092, 0.0068, 0.0110, 0.0055, 0.0097, 0.0063, 0.0090, 0.0103, 0.0073, 0.0094, 0.0080, 0.0112, 0.0067, 0.0098, 0.0061, 0.0087, 0.0101, 0.0077, 0.0093, 0.0084, 0.0107, 0.0066, 0.0095, 0.0079, 0.0113, 0.0071, 0.0090, 0.0058, 0.0099, 0.0082, 0.0105, 0.0069, 0.0092, 0.0076, 0.0116, 0.0064, 0.0096, 0.0085, 0.0109, 0.0072, 0.0089, 0.0061, 0.0102, 0.0078, 0.0094, 0.0056, 0.0087, 0.0106, 0.0074, 0.0098, 0.0067, 0.0091, 0.0081, 0.0100, 0.0084]
eps5_c4 = [0.0085, 0.0098, 0.0078, 0.0110, 0.0090, 0.0072, 0.0104, 0.0082, 0.01294, 0.0096, 0.0087, 0.0113, 0.0075, 0.0101, 0.0068, 0.0093, 0.0108, 0.0080, 0.0097, 0.0070, 0.0105, 0.0086, 0.0115, 0.0077, 0.0094, 0.0066, 0.0100, 0.0088, 0.0109, 0.0074, 0.0096, 0.0083, 0.0112, 0.0071, 0.0099, 0.0087, 0.0106, 0.0078, 0.0093, 0.0069, 0.0103, 0.0085, 0.0114, 0.0076, 0.0097, 0.0089, 0.0110, 0.0073, 0.0101, 0.0082, 0.0095, 0.0067, 0.0107, 0.0086, 0.0098, 0.0075, 0.0104, 0.0081, 0.0114, 0.0070, 0.0092, 0.0088, 0.0100, 0.0079, 0.0108, 0.0072, 0.0125, 0.0084, 0.0097, 0.0068, 0.0103, 0.0089, 0.0111, 0.0076, 0.0094, 0.0083, 0.0106, 0.0071, 0.0099, 0.0087, 0.0113, 0.0074, 0.0096, 0.0080, 0.0102, 0.0069, 0.0108, 0.0085, 0.0093, 0.0077, 0.0110, 0.0082, 0.0098, 0.0073, 0.0105, 0.0088, 0.0095, 0.0079, 0.0101, 0.0085]

eps6_c3 = [0.0262, 0.0248, 0.0275, 0.0235, 0.0268, 0.0244, 0.0280, 0.0229, 0.0258, 0.0239, 0.0272, 0.0226, 0.0265, 0.0250, 0.0290, 0.0237, 0.0270, 0.0228, 0.0256, 0.0242, 0.0285, 0.0231, 0.0333, 0.0246, 0.0222, 0.0276, 0.0240, 0.0253, 0.0219, 0.0290, 0.0227, 0.0260, 0.0245, 0.0274, 0.0233, 0.0266, 0.0249, 0.0221, 0.0281, 0.0238, 0.0259, 0.01855, 0.0243, 0.0288, 0.0230, 0.0267, 0.0252, 0.0278, 0.0226, 0.0295, 0.0241, 0.0263, 0.0234, 0.0286, 0.0247, 0.0225, 0.0271, 0.0240, 0.0258, 0.0220, 0.0282, 0.0236, 0.0264, 0.0250, 0.0229, 0.0276, 0.0243, 0.0261, 0.0218, 0.0284, 0.0237, 0.0269, 0.0231, 0.0255, 0.0330, 0.0246, 0.0224, 0.0274, 0.0315, 0.0239, 0.0260, 0.0228, 0.0279, 0.0248, 0.0233, 0.0291, 0.0242, 0.0265, 0.0221, 0.0283, 0.0237, 0.0257, 0.0230, 0.0277, 0.0244, 0.0262, 0.0219, 0.0271, 0.0240, 0.0248]
eps6_c4 = [0.0268, 0.0300, 0.0245, 0.0302, 0.0255, 0.0278, 0.0238, 0.0292, 0.0250, 0.0270, 0.0232, 0.0285, 0.0258, 0.0242, 0.0296, 0.0253, 0.0235, 0.0276, 0.0262, 0.0247, 0.0283, 0.0280, 0.0256, 0.0240, 0.0290, 0.0251, 0.0268, 0.0234, 0.0283, 0.0257, 0.0245, 0.0189, 0.0274, 0.0228, 0.0262, 0.0288, 0.0249, 0.0265, 0.0239, 0.0279, 0.0254, 0.0243, 0.0298, 0.0260, 0.0236, 0.0275, 0.0250, 0.0270, 0.0241, 0.0284, 0.0256, 0.0231, 0.0276, 0.0263, 0.0248, 0.0289, 0.0244, 0.0267, 0.0238, 0.0281, 0.0253, 0.0240, 0.0275, 0.0258, 0.0310, 0.0246, 0.0232, 0.0270, 0.0255, 0.0285, 0.0242, 0.0264, 0.0236, 0.0312, 0.0251, 0.0269, 0.0229, 0.0280, 0.0257, 0.0243, 0.0273, 0.0237, 0.0291, 0.0254, 0.0241, 0.0278, 0.0262, 0.0233, 0.0286, 0.0249, 0.0266, 0.0239, 0.0282, 0.0255, 0.0244, 0.0271, 0.0230, 0.0276, 0.0258, 0.0252]

eps7_c3 = [0.080, 0.075, 0.086, 0.072, 0.083, 0.077, 0.089, 0.074, 0.081, 0.070, 0.085, 0.078, 0.092, 0.073, 0.082, 0.076, 0.088, 0.071, 0.084, 0.079, 0.087, 0.074, 0.080, 0.076, 0.091, 0.073, 0.083, 0.078, 0.090, 0.072, 0.081, 0.075, 0.086, 0.070, 0.084, 0.077, 0.089, 0.074, 0.080, 0.078, 0.085, 0.072, 0.083, 0.076, 0.088, 0.073, 0.095, 0.079, 0.082, 0.075, 0.081, 0.071, 0.086, 0.077, 0.090, 0.084, 0.074, 0.087, 0.078, 0.082, 0.073, 0.087, 0.076, 0.080, 0.091, 0.072, 0.085, 0.079, 0.083, 0.070, 0.088, 0.075, 0.081, 0.077, 0.086, 0.073, 0.084, 0.079, 0.0967, 0.074, 0.082, 0.076, 0.089, 0.071, 0.085, 0.078, 0.080, 0.073, 0.0676, 0.083, 0.077, 0.087, 0.074, 0.081, 0.079, 0.086, 0.072, 0.084, 0.076, 0.080]
eps7_c4 = [0.082, 0.088, 0.077, 0.085, 0.093, 0.080, 0.074, 0.090, 0.079, 0.083, 0.076, 0.089, 0.081, 0.075, 0.087, 0.079, 0.084, 0.073, 0.091, 0.078, 0.086, 0.080, 0.075, 0.088, 0.082, 0.077, 0.090, 0.079, 0.085, 0.074, 0.087, 0.081, 0.076, 0.083, 0.078, 0.089, 0.080, 0.086, 0.076, 0.091, 0.079, 0.084, 0.077, 0.088, 0.081, 0.075, 0.087, 0.080, 0.083, 0.076, 0.090, 0.078, 0.085, 0.079, 0.082, 0.074, 0.088, 0.080, 0.084, 0.077, 0.069, 0.081, 0.086, 0.079, 0.089, 0.075, 0.083, 0.078, 0.087, 0.080, 0.076, 0.090, 0.082, 0.077, 0.085, 0.079, 0.088, 0.074, 0.084, 0.081, 0.086, 0.078, 0.091, 0.076, 0.083, 0.080, 0.087, 0.075, 0.082, 0.079, 0.089, 0.077, 0.084, 0.081, 0.076, 0.086, 0.080, 0.085, 0.079, 0.083]

eps8_c3 = [0.195, 0.182, 0.210, 0.175, 0.203, 0.188, 0.218, 0.170, 0.198, 0.186, 0.207, 0.185, 0.215, 0.178, 0.200, 0.190, 0.157, 0.173, 0.205, 0.186, 0.212, 0.168, 0.197, 0.183, 0.220, 0.176, 0.204, 0.191, 0.214, 0.172, 0.199, 0.187, 0.226, 0.180, 0.208, 0.165, 0.201, 0.193, 0.216, 0.174, 0.206, 0.184, 0.219, 0.177, 0.202, 0.189, 0.230, 0.171, 0.209, 0.186, 0.213, 0.179, 0.198, 0.192, 0.221, 0.175, 0.205, 0.183, 0.1496, 0.169, 0.200, 0.188, 0.217, 0.178, 0.207, 0.163, 0.196, 0.185, 0.224, 0.174, 0.211, 0.190, 0.202, 0.181, 0.215, 0.170, 0.199, 0.187, 0.228, 0.176, 0.208, 0.184, 0.194, 0.172, 0.218, 0.189, 0.203, 0.166, 0.212, 0.180, 0.197, 0.191, 0.222, 0.177, 0.206, 0.185, 0.214, 0.173, 0.200, 0.193]
eps8_c4 = [0.200, 0.190, 0.215, 0.185, 0.208, 0.196, 0.222, 0.180, 0.205, 0.192, 0.218, 0.187, 0.210, 0.178, 0.203, 0.195, 0.225, 0.183, 0.212, 0.191, 0.207, 0.176, 0.200, 0.193, 0.230, 0.188, 0.214, 0.182, 0.206, 0.197, 0.221, 0.179, 0.209, 0.190, 0.216, 0.185, 0.204, 0.194, 0.226, 0.181, 0.211, 0.189, 0.203, 0.198, 0.219, 0.184, 0.208, 0.192, 0.236, 0.186, 0.213, 0.180, 0.205, 0.195, 0.217, 0.183, 0.210, 0.191, 0.202, 0.188, 0.214, 0.186, 0.198, 0.223, 0.182, 0.207, 0.194, 0.215, 0.179, 0.201, 0.190, 0.220, 0.185, 0.209, 0.196, 0.184, 0.2477, 0.193, 0.204, 0.181, 0.212, 0.189, 0.199, 0.218, 0.183, 0.206, 0.192, 0.214, 0.178, 0.203, 0.195, 0.221, 0.186, 0.208, 0.190, 0.200, 0.216, 0.187, 0.198, 0.195]

eps9_c3 = [0.385, 0.395, 0.372, 0.410, 0.360, 0.425, 0.350, 0.400, 0.368, 0.418, 0.345, 0.392, 0.375, 0.430, 0.355, 0.405, 0.338, 0.420, 0.362, 0.398, 0.340, 0.2837, 0.385, 0.432, 0.356, 0.410, 0.372, 0.395, 0.346, 0.415, 0.300, 0.380, 0.365, 0.428, 0.352, 0.402, 0.375, 0.440, 0.358, 0.392, 0.345, 0.418, 0.370, 0.400, 0.385, 0.355, 0.425, 0.378, 0.392, 0.348, 0.412, 0.368, 0.430, 0.360, 0.395, 0.342, 0.372, 0.405, 0.350, 0.422, 0.365, 0.440, 0.355, 0.398, 0.378, 0.412, 0.385, 0.350, 0.420, 0.368, 0.395, 0.338, 0.410, 0.375, 0.432, 0.360, 0.400, 0.346, 0.418, 0.372, 0.390, 0.355, 0.470, 0.5017, 0.365, 0.405, 0.340, 0.425, 0.378, 0.395, 0.352, 0.415, 0.368, 0.438, 0.360, 0.398, 0.345, 0.412, 0.380, 0.385]
eps9_c4 = [0.410, 0.375, 0.450, 0.365, 0.420, 0.355, 0.438, 0.382, 0.400, 0.445, 0.372, 0.415, 0.350, 0.428, 0.385, 0.478, 0.362, 0.405, 0.390, 0.358, 0.418, 0.375, 0.440, 0.368, 0.425, 0.380, 0.410, 0.352, 0.435, 0.390, 0.470, 0.372, 0.445, 0.360, 0.415, 0.385, 0.400, 0.348, 0.430, 0.284, 0.378, 0.408, 0.365, 0.438, 0.392, 0.372, 0.420, 0.356, 0.445, 0.382, 0.400, 0.368, 0.425, 0.388, 0.352, 0.412, 0.378, 0.435, 0.360, 0.395, 0.418, 0.375, 0.400, 0.443, 0.365, 0.410, 0.386, 0.355, 0.428, 0.370, 0.402, 0.380, 0.448, 0.362, 0.415, 0.390, 0.350, 0.432, 0.376, 0.405, 0.368, 0.420, 0.358, 0.395, 0.440, 0.372, 0.412, 0.384, 0.356, 0.425, 0.378, 0.398, 0.362, 0.418, 0.386, 0.305, 0.408, 0.372, 0.395, 0.400]

# tick values / labels
x_ticks = [0, 100, 200, 300, 400, 500]
x_tick_labels = ["0", "100", "200", "300", "400", "500"]

beta_ticks = [0.225, 0.25, 0.275, 0.3]; beta_labels = ["0.225", "0.250", "0.275", "0.300"]
eta_ticks = [0.0, 0.02, 0.04, 0.06, 0.08]; eta_labels = ["0.00", "0.02", "0.04", "0.06", "0.08"]
xi_ticks = [0.6, 0.8, 1.0, 1.2]; xi_labels = ["0.6", "0.8", "1.0", "1.2"]
nu_ticks = [3, 4, 5, 6]; nu_labels = ["3", "4", "5", "6"]
psi_ticks = [0.78, 0.80, 0.82, 0.84, 0.86]; psi_labels = ["0.78", "0.80", "0.82", "0.84", "0.86"]
pi_ticks = [2.5e-6, 5e-6, 7.5e-6, 1e-5, 1.25e-5]; pi_labels = ["2.50e\u221206", "5.00e\u221206", "7.50e\u221206", "1.00e\u221205", "1.25e\u221205"]
rho1_ticks = [0.08, 0.09, 0.10]; rho1_labels = ["0.08", "0.09", "0.10"]
rho2_ticks = [0.08, 0.09, 0.10, 0.11]; rho2_labels = ["0.08", "0.09", "0.10", "0.11"]
rho3_ticks = [0.45, 0.475, 0.5, 0.525, 0.55]; rho3_labels = ["0.450", "0.475", "0.500", "0.525", "0.550"]
rho4_ticks = [0.475, 0.5, 0.525, 0.55, 0.575]; rho4_labels = ["0.475", "0.500", "0.525", "0.550", "0.575"]
rho5_ticks = [0.65, 0.70, 0.75]; rho5_labels = ["0.65", "0.70", "0.75"]
rho6_ticks = [0.70, 0.75]; rho6_labels = ["0.70", "0.75"]
rho7_ticks = [0.80, 0.85, 0.90]; rho7_labels = ["0.80", "0.85", "0.90"]
rho8_ticks = [0.85, 0.90, 0.95, 1.00]; rho8_labels = ["0.85", "0.90", "0.95", "1.00"]
rho9_ticks = [0.95, 0.975, 1.0, 1.025, 1.05]; rho9_labels = ["0.950", "0.975", "1.000", "1.025", "1.050"]
eps1_ticks = [0.0, 0.001, 0.002, 0.003, 0.004]; eps1_labels = ["0.000", "0.001", "0.002", "0.003", "0.004"]
eps2_ticks = [0.0, 0.001, 0.002, 0.003, 0.004]; eps2_labels = ["0.000", "0.001", "0.002", "0.003", "0.004"]
eps3_ticks = [0.002, 0.004, 0.006]; eps3_labels = ["0.002", "0.004", "0.006"]
eps4_ticks = [0.002, 0.003, 0.004, 0.005, 0.006]; eps4_labels = ["0.002", "0.003", "0.004", "0.005", "0.006"]
eps5_ticks = [0.006, 0.008, 0.010, 0.012]; eps5_labels = ["0.006", "0.008", "0.010", "0.012"]
eps6_ticks = [0.018, 0.022, 0.026, 0.030]; eps6_labels = ["0.018", "0.022", "0.026", "0.030"]
eps7_ticks = [0.07, 0.08, 0.09]; eps7_labels = ["0.07", "0.08", "0.09"]
eps8_ticks = [0.150, 0.175, 0.200, 0.225]; eps8_labels = ["0.150", "0.175", "0.200", "0.225"]
eps9_ticks = [0.30, 0.35, 0.40, 0.45, 0.50]; eps9_labels = ["0.30", "0.35", "0.40", "0.45", "0.50"]

# ---------------- assemble panels ----------------
panels = [
    ("beta", beta_c3, beta_c4, beta_ticks, beta_labels),
    ("eta", eta_c3, eta_c4, eta_ticks, eta_labels),
    ("xi", xi_c3, xi_c4, xi_ticks, xi_labels),
    ("nu", nu_c3, nu_c4, nu_ticks, nu_labels),
    ("psi", psi_c3, psi_c4, psi_ticks, psi_labels),
    ("pi", [v * PI_UNIT for v in pi_c3], [v * PI_UNIT for v in pi_c4], pi_ticks, pi_labels),
    ("rho[1]", rho1_c3, rho1_c4, rho1_ticks, rho1_labels),
    ("rho[2]", rho2_c3, rho2_c4, rho2_ticks, rho2_labels),
    ("rho[3]", rho3_c3, rho3_c4, rho3_ticks, rho3_labels),
    ("rho[4]", rho4_c3, rho4_c4, rho4_ticks, rho4_labels),
    ("rho[5]", rho5_c3, rho5_c4, rho5_ticks, rho5_labels),
    ("rho[6]", rho6_c3, rho6_c4, rho6_ticks, rho6_labels),
    ("rho[7]", rho7_c3, rho7_c4, rho7_ticks, rho7_labels),
    ("rho[8]", rho8_c3, rho8_c4, rho8_ticks, rho8_labels),
    ("rho[9]", rho9_c3, rho9_c4, rho9_ticks, rho9_labels),
    ("epsilon[1]", eps1_c3, eps1_c4, eps1_ticks, eps1_labels),
    ("epsilon[2]", eps2_c3, eps2_c4, eps2_ticks, eps2_labels),
    ("epsilon[3]", eps3_c3, eps3_c4, eps3_ticks, eps3_labels),
    ("epsilon[4]", eps4_c3, eps4_c4, eps4_ticks, eps4_labels),
    ("epsilon[5]", eps5_c3, eps5_c4, eps5_ticks, eps5_labels),
    ("epsilon[6]", eps6_c3, eps6_c4, eps6_ticks, eps6_labels),
    ("epsilon[7]", eps7_c3, eps7_c4, eps7_ticks, eps7_labels),
    ("epsilon[8]", eps8_c3, eps8_c4, eps8_ticks, eps8_labels),
    ("epsilon[9]", eps9_c3, eps9_c4, eps9_ticks, eps9_labels),
]

W, H = 1246, 731
FONT = "Liberation Sans, Arial, Helvetica, sans-serif"
TICK_SIZE = 15.5
N_ITER = 500
col_left0, col_step, panel_w = 87.0, 226.5, 168.0
row_top0, row_step, panel_h = 33.0, 147.0, 82.0

fig = go.Figure()
layout = {}
annotations = []

# legend-only entries for chains 1 and 2 (fully hidden under chains 3/4 in the reference)
for ci in (0, 1):
    fig.add_trace(go.Scatter(x=[None], y=[None], mode="lines", name=chains[ci],
                             legendgroup=chains[ci], showlegend=True,
                             line=dict(color=chain_colors[ci], width=2)))

for k, (name, c3, c4, yt, yl) in enumerate(panels):
    r, c = divmod(k, 5)
    n = k + 1
    xa = "x" if n == 1 else f"x{n}"
    ya = "y" if n == 1 else f"y{n}"
    for ci, vals in ((2, c3), (3, c4)):
        it = np.linspace(1, N_ITER, len(vals))
        fig.add_trace(go.Scatter(
            x=it, y=vals, mode="lines", xaxis=xa, yaxis=ya,
            name=chains[ci], legendgroup=chains[ci], showlegend=(k == 0),
            line=dict(color=chain_colors[ci], width=1.8), hoverinfo="skip"))
    allv = np.array(list(c3) + list(c4), dtype=float)
    lo, hi = allv.min(), allv.max()
    span = hi - lo
    pad = 0.05 * abs(hi) if span == 0 else 0.05 * span
    x0 = (col_left0 + c * col_step) / W
    x1 = (col_left0 + c * col_step + panel_w) / W
    top = row_top0 + r * row_step
    bot = top + panel_h
    y0 = 1 - bot / H
    y1 = 1 - top / H
    xkey = "xaxis" if n == 1 else f"xaxis{n}"
    ykey = "yaxis" if n == 1 else f"yaxis{n}"
    layout[xkey] = dict(domain=[x0, x1], anchor=ya, range=[1 - 0.05 * (N_ITER - 1), N_ITER + 0.05 * (N_ITER - 1)],
                        tickmode="array", tickvals=x_ticks, ticktext=x_tick_labels,
                        showgrid=False, zeroline=False, showline=True, linecolor="#222222", linewidth=3,
                        ticks="outside", ticklen=4, tickwidth=1.3, tickcolor="#333333",
                        tickfont=dict(family=FONT, size=TICK_SIZE, color="#4D4D4D"), fixedrange=True)
    layout[ykey] = dict(domain=[y0, y1], anchor=xa, range=[lo - pad, hi + pad],
                        tickmode="array", tickvals=yt, ticktext=yl,
                        showgrid=False, zeroline=False, showline=True, linecolor="#222222", linewidth=1.6,
                        ticks="outside", ticklen=4, tickwidth=1.3, tickcolor="#333333",
                        tickfont=dict(family=FONT, size=TICK_SIZE, color="#4D4D4D"), fixedrange=True)
    annotations.append(dict(text=f"<b>{name}</b>", x=(x0 + x1) / 2, y=1 - (top - 15.5) / H,
                            xref="paper", yref="paper", xanchor="center", yanchor="middle",
                            showarrow=False, font=dict(family=FONT, size=14.5, color="#000000")))

# legend title drawn as a text label so that its gap to the keys matches the reference
annotations.append(dict(text="chain", x=1190 / W, y=1 - 302 / H, xref="paper", yref="paper",
                        xanchor="left", yanchor="middle", showarrow=False,
                        font=dict(family=FONT, size=19, color="#1A1A1A")))

fig.update_layout(
    width=W, height=H, margin=dict(l=0, r=0, t=0, b=0),
    paper_bgcolor="white", plot_bgcolor="white",
    font=dict(family=FONT, size=13, color="#1A1A1A"),
    showlegend=True,
    legend=dict(x=1192 / W, y=1 - 318 / H, xanchor="left", yanchor="top",
                traceorder="grouped", tracegroupgap=8,
                font=dict(family=FONT, size=15, color="#1A1A1A"),
                bgcolor="rgba(0,0,0,0)", itemwidth=30),
    annotations=annotations,
    **layout,
)

fig.write_html("out.html")
